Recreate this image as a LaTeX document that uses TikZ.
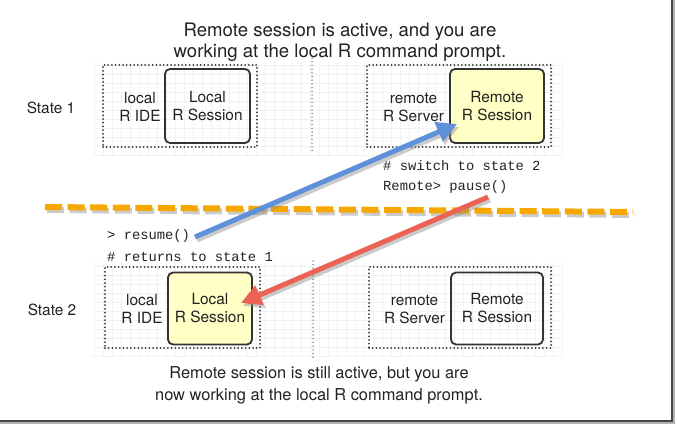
\documentclass[tikz,border=0pt]{standalone}
\usepackage{fontspec}
\usetikzlibrary{arrows.meta}
\newfontfamily\heros{TeX Gyre Heros}
\newfontfamily\monof{Liberation Mono}
\definecolor{boxyellow}{RGB}{255,255,198}
\definecolor{arrblue}{RGB}{95,145,218}
\definecolor{arrred}{RGB}{236,98,84}
\definecolor{dashorange}{RGB}{246,168,0}
\definecolor{inkdark}{RGB}{34,34,34}
\tikzset{
  dotbox/.style={draw=black!80, line width=2pt, line cap=round, dash pattern=on 0pt off 3.7pt, minimum width=#1, minimum height=82pt, inner sep=0pt},
  sessbox/.style={draw=black!80, line width=1.8pt, rounded corners=5pt, minimum width=#1, minimum height=74pt, inner sep=0pt, align=center, font=\heros\fontsize{15.4}{18}\selectfont, text=inkdark},
  lbl/.style={align=center, inner sep=0pt, font=\heros\fontsize{15.4}{18}\selectfont, text=inkdark},
  titlecap/.style={align=center, inner sep=0pt, font=\heros\fontsize{18.6}{20.5}\selectfont, text=inkdark},
  bottomcap/.style={align=center, inner sep=0pt, font=\heros\fontsize{16.4}{22}\selectfont, text=inkdark},
  code/.style={anchor=west, inner sep=0pt, font=\monof\fontsize{13.8}{16}\selectfont, text=inkdark},
  gridline/.style={draw=black!5, line width=0.5pt},
  vdots/.style={draw=black!60, line width=1.5pt, line cap=round, dash pattern=on 0pt off 3.7pt},
  fatarrow/.style={line width=5pt, -{Triangle[length=20pt,width=20pt]}},
  shadowed/.style={draw=black!45, opacity=0.45}
}
\begin{document}
\begin{tikzpicture}[x=1pt,y=-1pt]
\useasboundingbox (0,0) rectangle (677,425);
% faint grids
\foreach \gx in {94,103,...,562} {\draw[gridline] (\gx,62) -- (\gx,155);}
\foreach \gy in {65,74,...,155} {\draw[gridline] (92,\gy) -- (562,\gy);}
\foreach \gx in {94,103,...,562} {\draw[gridline] (\gx,262) -- (\gx,356);}
\foreach \gy in {266,275,...,356} {\draw[gridline] (92,\gy) -- (562,\gy);}
% vertical dotted dividers
\coordinate (va1) at (312,58);
\coordinate (vb1) at (312,152);
\coordinate (va2) at (313,261);
\coordinate (vb2) at (313,358);
\draw[vdots] (va1) -- (vb1);
\draw[vdots] (va2) -- (vb2);
% captions
\node[titlecap] (title) at (340,42) {Remote session is active, and you are\\working at the local R command prompt.};
\node[bottomcap] (bottom) at (319,385) {Remote session is still active, but you are\\now working at the local R command prompt.};
% state labels
\node[lbl] (st1) at (51,108) {State 1};
\node[lbl] (st2) at (52,310) {State 2};
% state 1 boxes
\node[dotbox=154pt] (L1) at (180,106) {};
\node[sessbox=85pt] (LS1) at (207.5,106) {Local\\R Session};
\node[lbl] (ide1) at (140,107) {local\\R IDE};
\node[dotbox=184pt] (R1) at (459,106) {};
\node[sessbox=94pt, fill=boxyellow] (RS1) at (497,106) {Remote\\R Session};
\node[lbl] (srv1) at (413.5,107) {remote\\R Server};
% state 2 boxes
\node[dotbox=155pt, minimum height=81pt] (L2) at (182.5,307.5) {};
\node[sessbox=84pt, minimum height=72pt, fill=boxyellow] (LS2) at (210,308.5) {Local\\R Session};
\node[lbl] (ide2) at (142,309) {local\\R IDE};
\node[dotbox=182pt, minimum height=81pt] (R2) at (460,307.5) {};
\node[sessbox=92pt, minimum height=72pt] (RS2) at (497,308.5) {Remote\\R Session};
\node[lbl] (srv2) at (414.5,309) {remote\\R Server};
% code
\node[code] (sw) at (383,166) {\# switch to state 2};
\node[code] (pause) at (383,187) {Remote> pause()};
\node[code] (resume) at (107,236) {> resume()};
\node[code] (ret) at (107,257) {\# returns to state 1};
% orange dashed separator
\coordinate (oL) at (45,207);
\coordinate (oR) at (633,212);
\draw[shadowed, line width=6pt, dash pattern=on 17pt off 5.6pt] ([shift={(2,3)}]oL) -- ([shift={(2,3)}]oR);
\draw[dashorange, line width=6pt, dash pattern=on 17pt off 5.6pt] (oL) -- (oR);
% arrows
\coordinate (bS) at (195,237);
\coordinate (bT) at (457,124);
\coordinate (rS) at (488,197);
\coordinate (rT) at (241,303);
\draw[fatarrow, shadowed] ([shift={(2,3)}]bS) -- ([shift={(2,3)}]bT);
\draw[fatarrow, draw=arrblue, fill=arrblue] (bS) -- (bT);
\draw[fatarrow, shadowed] ([shift={(2,3)}]rS) -- ([shift={(2,3)}]rT);
\draw[fatarrow, draw=arrred, fill=arrred] (rS) -- (rT);
% screenshot frame
\coordinate (fTR) at (672,0);
\coordinate (fBR) at (672,421);
\coordinate (fBL) at (0,421);
\draw[black!30, line width=2pt] ([shift={(2,0)}]fTR) -- ([shift={(2,2)}]fBR) -- ([shift={(0,2)}]fBL);
\draw[black!72, line width=2pt] (fTR) -- (fBR) -- (fBL);
\end{tikzpicture}
\end{document}
